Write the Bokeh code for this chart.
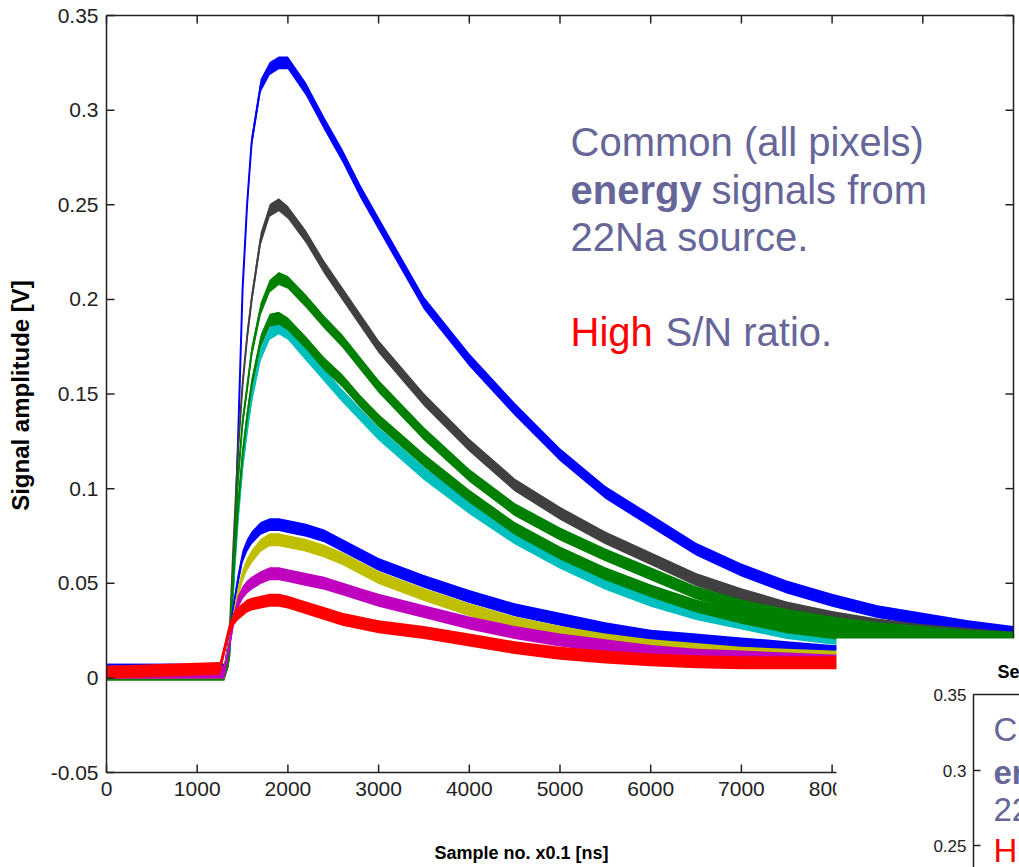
import math
from bokeh.plotting import figure
from bokeh.models import Range1d, Label, BoxAnnotation
from bokeh.core.properties import value
from bokeh.embed import file_html
from bokeh.resources import INLINE

# ---------------- data ----------------
sample_x = [0, 1250, 1300, 1350, 1400, 1450, 1500, 1550, 1600, 1700, 1800, 1900, 2000,
            2200, 2400, 2600, 2800, 3000, 3500, 4000, 4500, 5000, 5500, 6000, 6500,
            7000, 7500, 8000, 8500, 9000, 9500, 10000]

blue_top = [0.004, 0.004, 0.004, 0.010, 0.050, 0.125, 0.205, 0.250, 0.283, 0.313, 0.322, 0.325, 0.325,
            0.311, 0.293, 0.276, 0.257, 0.240, 0.198, 0.168, 0.142, 0.118, 0.098, 0.083, 0.068,
            0.057, 0.048, 0.041, 0.035, 0.031, 0.027, 0.024]
gray = [0.003, 0.003, 0.003, 0.015, 0.070, 0.120, 0.155, 0.180, 0.200, 0.232, 0.247, 0.250, 0.246,
        0.233, 0.217, 0.203, 0.189, 0.175, 0.147, 0.123, 0.102, 0.087, 0.074, 0.063, 0.052,
        0.044, 0.037, 0.032, 0.028, 0.025, 0.023, 0.021]
green_a = [0.002, 0.002, 0.002, 0.010, 0.060, 0.105, 0.135, 0.153, 0.172, 0.195, 0.207, 0.211, 0.209,
           0.199, 0.188, 0.178, 0.166, 0.154, 0.129, 0.107, 0.089, 0.076, 0.065, 0.055, 0.045,
           0.038, 0.033, 0.029, 0.026, 0.024, 0.022, 0.021]
cyan = [0.003, 0.003, 0.003, 0.010, 0.050, 0.085, 0.112, 0.131, 0.148, 0.171, 0.182, 0.185, 0.182,
        0.171, 0.160, 0.149, 0.139, 0.129, 0.108, 0.090, 0.074, 0.061, 0.050, 0.041, 0.034,
        0.029, 0.024, 0.021, 0.020, 0.019, 0.018, 0.017]
green_b = [0.002, 0.002, 0.002, 0.010, 0.055, 0.090, 0.118, 0.138, 0.155, 0.178, 0.189, 0.190, 0.187,
           0.177, 0.166, 0.157, 0.146, 0.136, 0.115, 0.096, 0.079, 0.066, 0.055, 0.046, 0.038,
           0.032, 0.027, 0.024, 0.022, 0.021, 0.020, 0.019]
blue_low = [0.004, 0.004, 0.004, 0.020, 0.037, 0.052, 0.064, 0.070, 0.074, 0.079, 0.081, 0.081, 0.080,
            0.078, 0.075, 0.070, 0.065, 0.060, 0.051, 0.043, 0.036, 0.031, 0.026, 0.022, 0.020,
            0.018, 0.016, 0.014, 0.013, 0.013, 0.012, 0.012]
yellow = [0.003, 0.003, 0.003, 0.018, 0.032, 0.045, 0.054, 0.060, 0.064, 0.070, 0.073, 0.073, 0.072,
          0.070, 0.067, 0.063, 0.058, 0.053, 0.044, 0.036, 0.029, 0.024, 0.020, 0.017, 0.015,
          0.013, 0.012, 0.011, 0.011, 0.010, 0.010, 0.010]
magenta = [0.003, 0.003, 0.003, 0.016, 0.030, 0.040, 0.045, 0.048, 0.050, 0.053, 0.055, 0.055, 0.054,
           0.052, 0.050, 0.047, 0.044, 0.041, 0.035, 0.029, 0.024, 0.020, 0.017, 0.014, 0.012,
           0.011, 0.010, 0.009, 0.009, 0.008, 0.008, 0.008]
red = [0.003, 0.005, 0.015, 0.025, 0.031, 0.034, 0.036, 0.038, 0.039, 0.040, 0.041, 0.041, 0.040,
       0.037, 0.034, 0.031, 0.029, 0.027, 0.024, 0.020, 0.016, 0.013, 0.011, 0.0095, 0.0085,
       0.008, 0.008, 0.008, 0.008, 0.008, 0.008, 0.008]

series = [
    ("blue_top", blue_top, "#0000FF"),
    ("gray", gray, "#404040"),
    ("green_a", green_a, "#008000"),
    ("cyan", cyan, "#00BFBF"),
    ("green_b", green_b, "#008000"),
    ("blue_low", blue_low, "#0000FF"),
    ("yellow", yellow, "#BFBF00"),
    ("magenta", magenta, "#BF00BF"),
    ("red", red, "#FF0000"),
]

x_ticks = [0, 1000, 2000, 3000, 4000, 5000, 6000, 7000, 8000, 9000, 10000]
y_ticks = [-0.05, 0, 0.05, 0.1, 0.15, 0.2, 0.25, 0.3, 0.35]
y_tick_labels = ["-0.05", "0", "0.05", "0.1", "0.15", "0.2", "0.25", "0.3", "0.35"]
mini_y_ticks = ["0.35", "0.3", "0.25"]
X_MIN, X_MAX = 0, 10000
Y_MIN, Y_MAX = -0.05, 0.35

# ---------------- layout helpers: page pixel -> data ----------------
AX0, AX1 = 106, 1013     # page px of x = 0 and x = 10000
AY0, AY1 = 15, 772       # page px of y = 0.35 and y = -0.05
def X(px):
    return X_MIN + (px - AX0) / (AX1 - AX0) * (X_MAX - X_MIN)
def Y(py):
    return Y_MAX - (py - AY0) / (AY1 - AY0) * (Y_MAX - Y_MIN)

W, H = 1019, 867
NOISE = 0.0034
SLATE = "#666699"
INK = "#222222"
TICK_PX = 8
TICK_FONT = "21px"

# the frame covers the whole canvas; the MATLAB-style box is drawn in data space
p = figure(width=W, height=H, x_range=Range1d(X(0), X(W)), y_range=Range1d(Y(H), Y(0)),
           output_backend="svg", toolbar_location=None,
           x_axis_location=None, y_axis_location=None,
           min_border_left=0, min_border_right=0, min_border_top=0, min_border_bottom=0)
p.outline_line_color = None
p.grid.visible = False
p.background_fill_color = "white"
p.border_fill_color = "white"

# curves
for name, vals, col in series:
    p.varea(x=sample_x, y1=[v - NOISE for v in vals], y2=[v + NOISE for v in vals],
            fill_color=col, fill_alpha=1.0)
    p.line(sample_x, vals, line_color=col, line_width=2)

# box with inward ticks
dy = TICK_PX * (Y_MAX - Y_MIN) / (AY1 - AY0)
dx = TICK_PX * (X_MAX - X_MIN) / (AX1 - AX0)
nx, ny = len(x_ticks), len(y_ticks)
p.segment(x0=[X_MIN, X_MIN], y0=[Y_MIN, Y_MAX], x1=[X_MAX, X_MAX], y1=[Y_MIN, Y_MAX],
          line_color=INK, line_width=1.5)
p.segment(x0=[X_MIN, X_MAX], y0=[Y_MIN, Y_MIN], x1=[X_MIN, X_MAX], y1=[Y_MAX, Y_MAX],
          line_color=INK, line_width=1.5)
p.segment(x0=x_ticks, y0=[Y_MIN] * nx, x1=x_ticks, y1=[Y_MIN + dy] * nx, line_color=INK, line_width=1.5)
p.segment(x0=x_ticks, y0=[Y_MAX] * nx, x1=x_ticks, y1=[Y_MAX - dy] * nx, line_color=INK, line_width=1.5)
p.segment(x0=[X_MIN] * ny, y0=y_ticks, x1=[X_MIN + dx] * ny, y1=y_ticks, line_color=INK, line_width=1.5)
p.segment(x0=[X_MAX] * ny, y0=y_ticks, x1=[X_MAX - dx] * ny, y1=y_ticks, line_color=INK, line_width=1.5)

# tick labels
p.text(x=x_ticks, y=[Y(781)] * nx, text=[str(t) for t in x_ticks],
       text_font=value("Liberation Sans"), text_font_size=value(TICK_FONT),
       text_color=value(INK), text_align=value("center"), text_baseline=value("top"))
p.text(x=[X(98)] * ny, y=y_ticks, text=y_tick_labels,
       text_font=value("Liberation Sans"), text_font_size=value(TICK_FONT),
       text_color=value(INK), text_align=value("right"), text_baseline=value("middle"))

def lab(text, px, py_mid, size, color=SLATE, bold=False, align="left", angle=0.0,
        level="annotation"):
    l = Label(x=X(px), y=Y(py_mid), text=text, text_font="Liberation Sans",
              text_font_size=f"{size}px", text_color=color,
              text_font_style="bold" if bold else "normal",
              text_align=align, text_baseline="middle", angle=angle, level=level)
    p.add_layout(l)
    return l

# annotation text (py = vertical centre of the capitals)
lab("Common (all pixels)", 570, 141, 40)
lab("energy", 570, 189, 40, bold=True)
lab("signals from", 711, 189, 40)
lab("22Na source.", 570, 236, 40)
lab("High", 570, 331, 40, color="#FF0000")
lab("S/N ratio.", 665, 331, 40)

# axis titles
lab("Signal amplitude [V]", 20, 395, 24, color="#000000", bold=True, align="center",
    angle=math.pi / 2)
lab("Sample no. x0.1 [ns]", 521, 852, 18, color="#000000", bold=True, align="center")

# overlapping second picture (lower right)
p.add_layout(BoxAnnotation(left=X(836), right=X(W + 50), top=Y(638), bottom=Y(H + 50),
                           fill_color="white", fill_alpha=1.0, line_color=None, level="overlay"))
p.add_layout(BoxAnnotation(left=X(973), right=X(W + 80), top=Y(694), bottom=Y(H + 80),
                           fill_alpha=0.0, line_color=INK, line_alpha=1.0, line_width=1.5,
                           level="overlay"))
for ty in (770, 845):
    p.add_layout(BoxAnnotation(left=X(973), right=X(980), top=Y(ty - 0.75), bottom=Y(ty + 0.75),
                               fill_color=INK, fill_alpha=1.0, line_color=None, level="overlay"))
for txt, ty in zip(mini_y_ticks, (694, 770, 845)):
    lab(txt, 966, ty, 17, color=INK, align="right", level="overlay")
lab("Se", 997, 671, 18, color="#000000", bold=True, level="overlay")
lab("C", 993, 729, 33, level="overlay")
lab("en", 993, 772, 33, bold=True, level="overlay")
lab("22", 993, 809, 33, level="overlay")
lab("H", 993, 850, 33, color="#FF0000", level="overlay")

open("out.html", "w").write(file_html(p, INLINE))
